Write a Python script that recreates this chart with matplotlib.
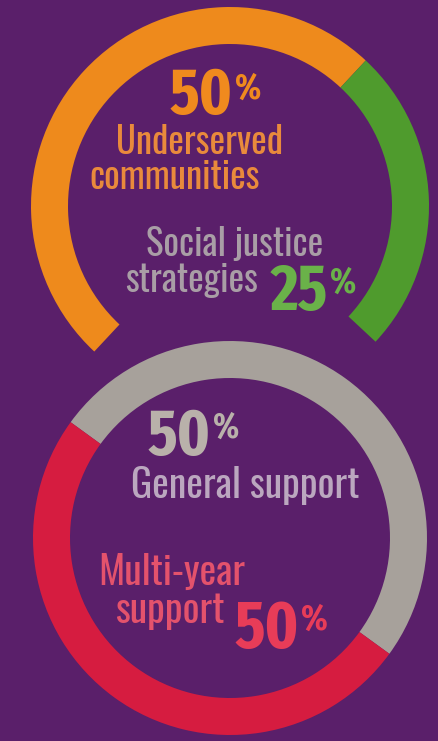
import matplotlib
matplotlib.use("Agg")
import matplotlib.pyplot as plt

W, H = 438, 741
BG = "#5a1f6a"
LABEL_FONT = ["Oswald", "DejaVu Sans"]
NUM_FONT = ["Fira Sans Extra Condensed", "Oswald", "DejaVu Sans"]

# top ring: share of a full circle, the rest is a gap
top_labels = ["Underserved communities", "Social justice strategies", "gap"]
top_values = [50, 25, 25]
top_colors = ["#ee8a1c", "#4f9b2d", "none"]

# bottom ring
bottom_labels = ["General support", "Multi-year support"]
bottom_values = [50, 50]
bottom_colors = ["#a7a19b", "#d61c40"]

fig = plt.figure(figsize=(W / 100, H / 100), dpi=100)
fig.patch.set_facecolor(BG)
ax = fig.add_axes([0, 0, 1, 1])
ax.set_facecolor(BG)

ring_w = 37

ax.pie(top_values, colors=top_colors, startangle=227, counterclock=False,
       center=(230, H - 206), radius=199, frame=True,
       wedgeprops=dict(width=ring_w, linewidth=0))
ax.pie(bottom_values, colors=bottom_colors, startangle=144, counterclock=False,
       center=(230, H - 538), radius=197, frame=True,
       wedgeprops=dict(width=ring_w, linewidth=0))

ax.set_xlim(0, W)
ax.set_ylim(0, H)
ax.set_aspect("equal")
ax.axis("off")


def txt(x, y, s, color, size=26.5, ha="center"):
    ax.text(x, H - y, s, color=color, fontsize=size,
            ha=ha, va="baseline", family=LABEL_FONT)


def pct(x, y, y_pct, num, color, size=47):
    # big number with a small raised percent sign
    ax.text(x, H - y, num, color=color, fontsize=size, fontweight="bold",
            ha="right", va="baseline", family=NUM_FONT)
    ax.text(x + 2, H - y_pct, "%", color=color, fontsize=size * 0.55,
            fontweight="bold", ha="left", va="baseline", family=NUM_FONT)


# top ring texts
pct(233, 114, 99, "50", "#f08a1e")
txt(199, 154, "Underserved", "#e98a3c")
txt(175, 189, "communities", "#e98a3c")
txt(235, 256, "Social justice", "#a99ea6")
txt(192, 292, "strategies", "#a99ea6")
pct(328, 310, 293, "25", "#6ab249")

# bottom ring texts
pct(211, 455, 438, "50", "#b9b1aa")
txt(245, 498, "General support", "#bba7bf", 28.5)
txt(172, 585, "Multi-year", "#e4526c", 28.5)
txt(170, 623, "support", "#e4526c", 28.5)
pct(299, 648, 630, "50", "#e83c58", 48)

fig.savefig("out.png", dpi=100, facecolor=BG)
